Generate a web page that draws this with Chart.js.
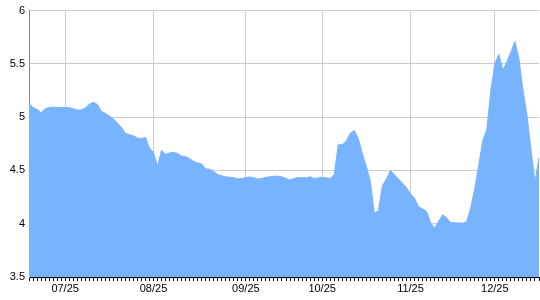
<!DOCTYPE html>
<html>
<head>
<meta charset="utf-8">
<script src="https://cdn.jsdelivr.net/npm/chart.js@4"></script>
<style>
  body { margin: 0; background: #fff; }
  canvas { display: block; }
</style>
</head>
<body>
<canvas id="chart" width="540" height="300"></canvas>
<script>
// one value per trading day
const values = [
  5.13, 5.09, 5.075, 5.04, 5.08, 5.09, 5.095, 5.09, 5.09, 5.09,
  5.09, 5.08, 5.068, 5.068, 5.085, 5.12, 5.14, 5.12, 5.055, 5.035,
  5.01, 4.985, 4.945, 4.905, 4.85, 4.835, 4.825, 4.805, 4.80, 4.81,
  4.71, 4.67, 4.54, 4.69, 4.65, 4.665, 4.67, 4.66, 4.635, 4.63,
  4.61, 4.585, 4.57, 4.56, 4.515, 4.51, 4.49, 4.46, 4.45, 4.44,
  4.435, 4.432, 4.42, 4.425, 4.432, 4.44, 4.43, 4.42, 4.425, 4.435,
  4.44, 4.446, 4.445, 4.44, 4.425, 4.41, 4.425, 4.432, 4.432, 4.432,
  4.44, 4.425, 4.43, 4.436, 4.43, 4.425, 4.46, 4.74, 4.742, 4.773,
  4.85, 4.875, 4.80, 4.66, 4.54, 4.40, 4.10, 4.12, 4.355, 4.42,
  4.50, 4.46, 4.42, 4.38, 4.34, 4.28, 4.24, 4.16, 4.14, 4.115,
  4.01, 3.955, 4.02, 4.085, 4.055, 4.01, 4.008, 4.007, 4.005, 4.02,
  4.15, 4.33, 4.55, 4.78, 4.88, 5.25, 5.50, 5.59, 5.44, 5.52,
  5.61, 5.71, 5.55, 5.26, 5.02, 4.70, 4.39, 4.62
];

// month labels and the point they sit on
const monthLabels = ["07/25", "08/25", "09/25", "10/25", "11/25", "12/25"];
const monthIndex = [9, 31, 54, 73, 95, 116];

const yMin = 3.5;
const yMax = 6;
const yStep = 0.5;

const labels = values.map((v, i) => {
  const k = monthIndex.indexOf(i);
  return k >= 0 ? monthLabels[k] : "";
});

const font = { family: "'Liberation Sans', Arial, sans-serif", size: 11 };

new Chart(document.getElementById("chart"), {
  type: "line",
  data: {
    labels: labels,
    datasets: [{
      data: values,
      fill: "start",
      backgroundColor: "#78b3ff",
      borderColor: "#78b3ff",
      borderWidth: 1,
      pointRadius: 0,
      tension: 0
    }]
  },
  options: {
    responsive: false,
    animation: false,
    layout: { padding: { top: 8, right: 0, left: 0, bottom: 0 } },
    plugins: { legend: { display: false }, tooltip: { enabled: false } },
    scales: {
      x: {
        type: "category",
        offset: false,
        afterFit: s => { s.height = 23; },
        border: { color: "#000" },
        grid: {
          color: ctx => (labels[ctx.index] ? "#cccccc" : "rgba(0,0,0,0)"),
          tickColor: "#000",
          tickLength: 4,
          drawOnChartArea: true
        },
        ticks: {
          autoSkip: false,
          maxRotation: 0,
          padding: 1,
          color: "#000",
          font: font,
          callback: (v, i) => labels[i]
        }
      },
      y: {
        min: yMin,
        max: yMax,
        afterFit: s => { s.width = 29; },
        border: { color: "#888" },
        grid: { color: "#cccccc", drawTicks: false },
        ticks: {
          stepSize: yStep,
          padding: 4,
          color: "#000",
          font: font,
          callback: v => String(Number(v.toFixed(1)))
        }
      }
    }
  }
});
</script>
</body>
</html>
